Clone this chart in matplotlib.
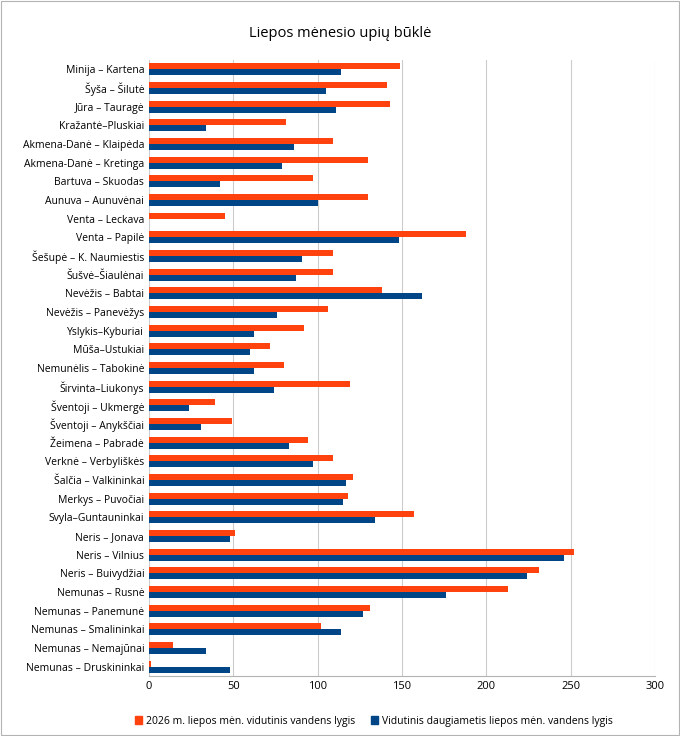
import numpy as np
import matplotlib.pyplot as plt
from matplotlib.patches import Patch, Rectangle

plt.rcParams['font.family'] = ['Open Sans', 'DejaVu Sans']

stations = ['Minija – Kartena', 'Šyša – Šilutė', 'Jūra – Tauragė', 'Kražantė–Pluskiai',
            'Akmena-Danė – Klaipėda', 'Akmena-Danė – Kretinga', 'Bartuva – Skuodas',
            'Aunuva – Aunuvėnai', 'Venta – Leckava', 'Venta – Papilė',
            'Šešupė – K. Naumiestis', 'Šušvė–Šiaulėnai', 'Nevėžis – Babtai',
            'Nevėžis – Panevėžys', 'Yslykis–Kyburiai', 'Mūša–Ustukiai',
            'Nemunėlis – Tabokinė', 'Širvinta–Liukonys', 'Šventoji – Ukmergė',
            'Šventoji – Anykščiai', 'Žeimena – Pabradė', 'Verknė – Verbyliškės',
            'Šalčia – Valkininkai', 'Merkys – Puvočiai', 'Svyla–Guntauninkai',
            'Neris – Jonava', 'Neris – Vilnius', 'Neris – Buivydžiai', 'Nemunas – Rusnė',
            'Nemunas – Panemunė', 'Nemunas – Smalininkai', 'Nemunas – Nemajūnai',
            'Nemunas – Druskininkai']
level_2026 = [149, 141, 143, 81, 109, 130, 97, 130, 45, 188, 109, 109, 138, 106, 92, 72,
              80, 119, 39, 49, 94, 109, 121, 118, 157, 51, 252, 231, 213, 131, 102, 14, 1]
level_avg = [114, 105, 111, 34, 86, 79, 42, 100, 0, 148, 91, 87, 162, 76, 62, 60,
             62, 74, 24, 31, 83, 97, 117, 115, 134, 48, 246, 224, 176, 127, 114, 34, 48]

orange = '#ff420e'
blue = '#004586'

fig = plt.figure(figsize=(6.8, 7.36), dpi=100)
fig.patches.append(Rectangle((0.001, 0.001), 0.997, 0.997, transform=fig.transFigure,
                             fill=False, edgecolor='#b3b3b3', linewidth=0.8))
ax = fig.add_axes([149/680, 60/736, 506/680, 616/736])

y = np.arange(len(stations))
h = 0.32
ax.barh(y - h/2, level_2026, height=h, color=orange)
ax.barh(y + h/2, level_avg, height=h, color=blue)

ax.set_yticks(y)
ax.set_yticklabels(stations, fontsize=7.5)
ax.set_ylim(len(stations) - 0.5, -0.5)
ax.set_xlim(0, 300)
ax.set_xticks(range(0, 301, 50))
ax.tick_params(axis='x', labelsize=8, length=0)
ax.tick_params(axis='y', length=0)
ax.grid(axis='x', color='#cccccc', linewidth=0.8)
ax.set_axisbelow(True)
for s in ['top', 'right', 'left']:
    ax.spines[s].set_visible(False)
ax.spines['bottom'].set_color('#b3b3b3')

fig.suptitle('Liepos mėnesio upių būklė', y=0.965, fontsize=10.5)
fig.legend(handles=[Patch(color=orange, label='2026 m. liepos mėn. vidutinis vandens lygis'),
                    Patch(color=blue, label='Vidutinis daugiametis liepos mėn. vandens lygis')],
           loc='lower center', bbox_to_anchor=(0.55, 0.0), ncol=2, frameon=False,
           fontsize=7.5, handlelength=0.7, handleheight=0.7, columnspacing=1.5, handletextpad=0.4)

fig.savefig('out.png')
